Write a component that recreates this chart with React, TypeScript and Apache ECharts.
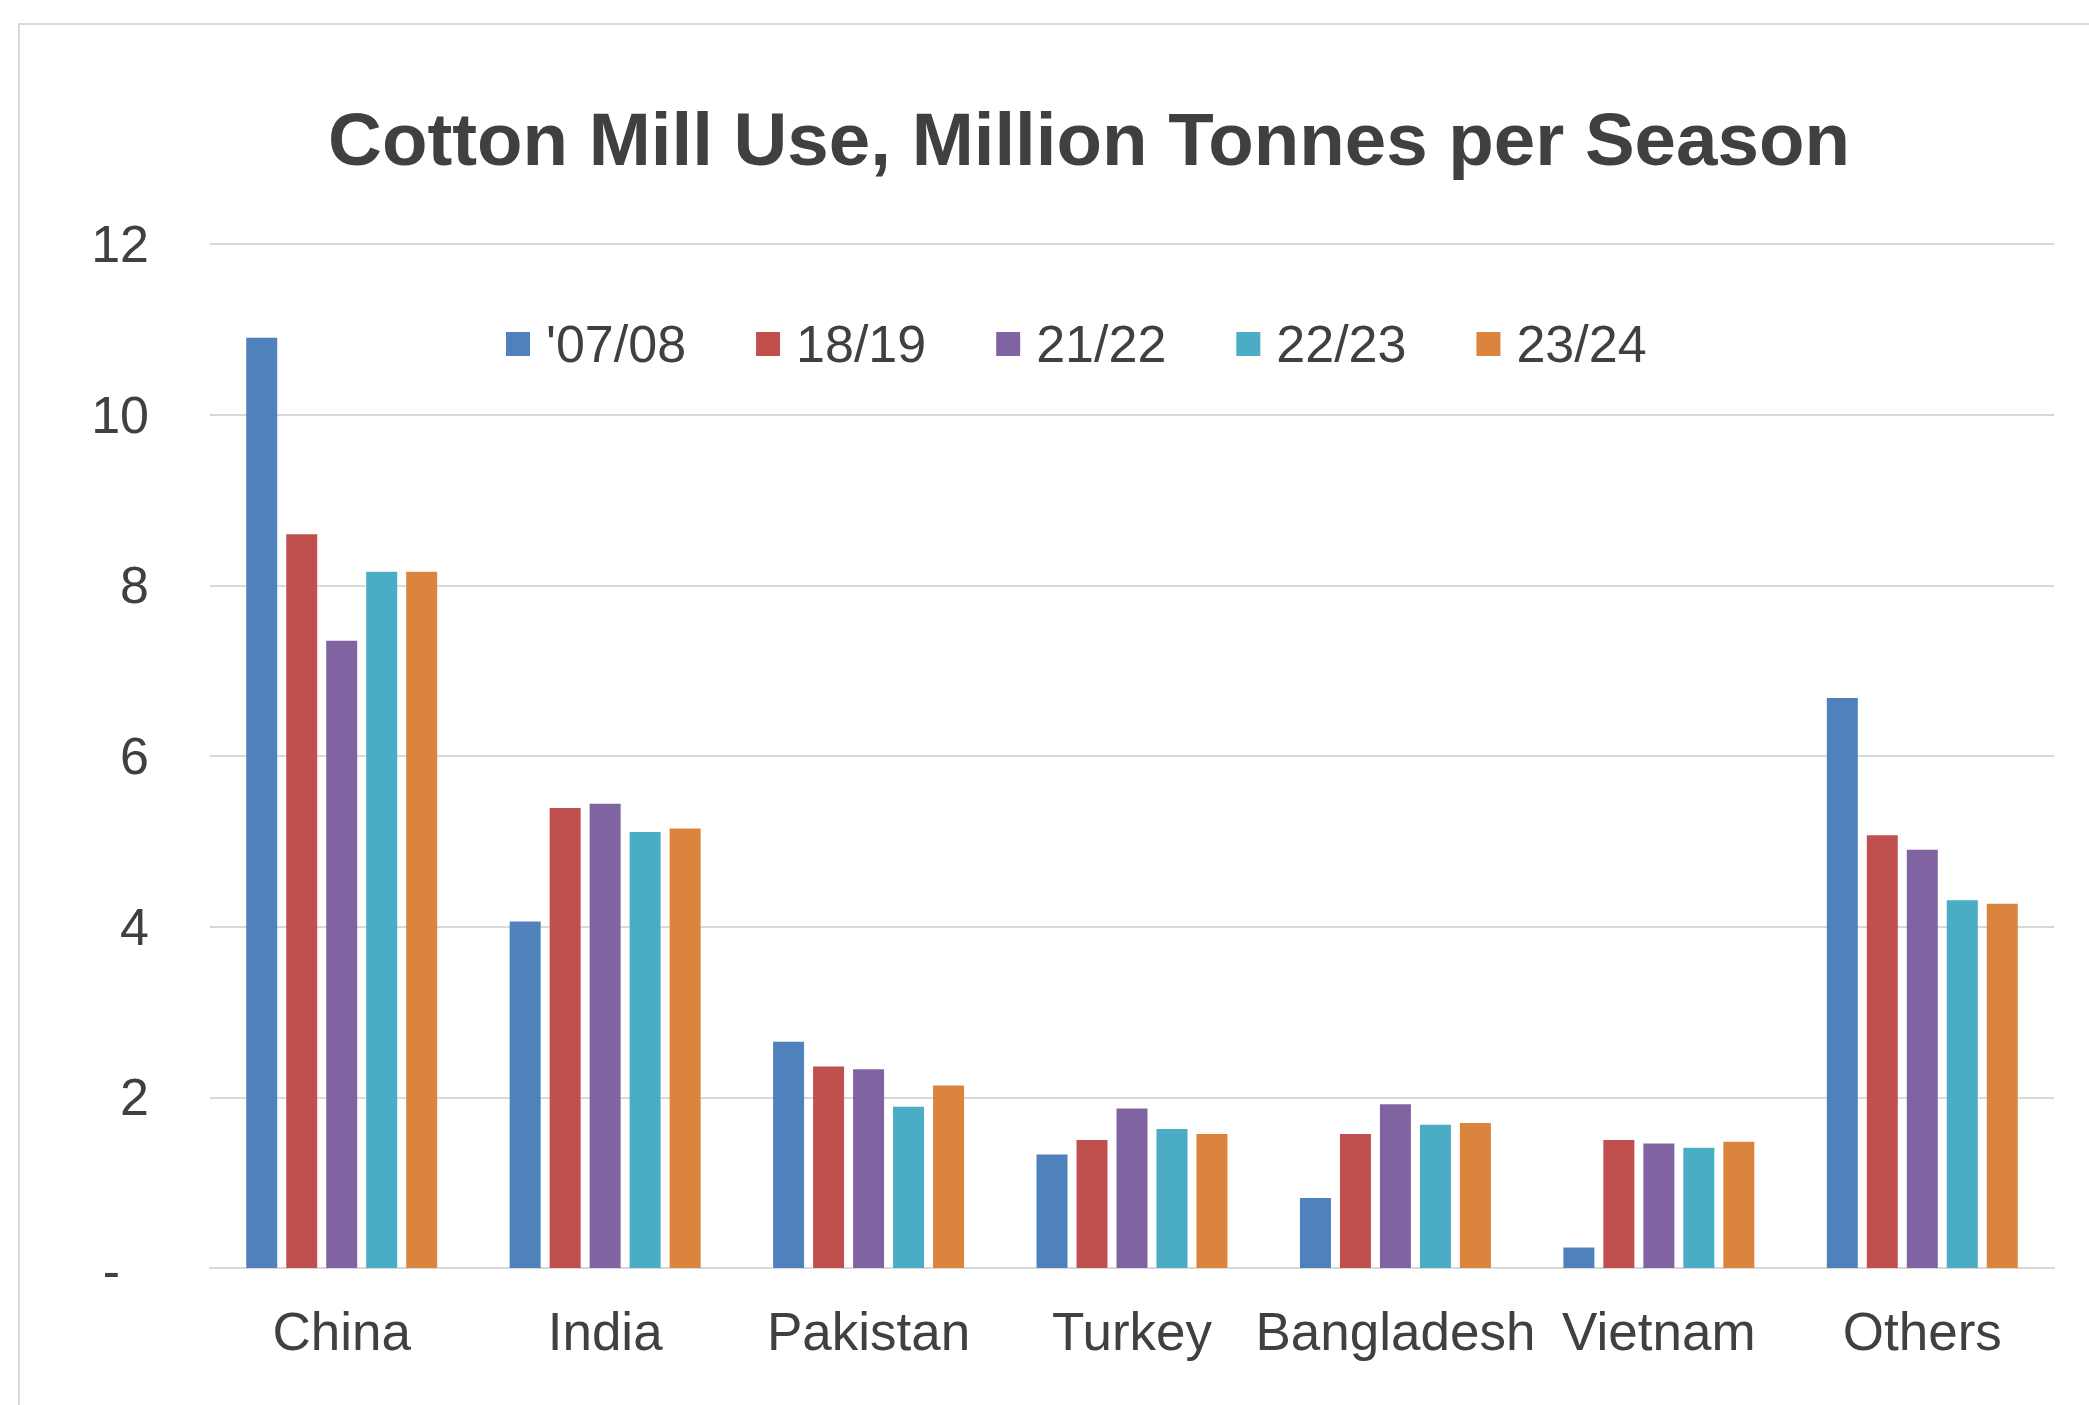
import React, { useEffect, useRef } from "react";
import * as echarts from "echarts";

const categories = ["China", "India", "Pakistan", "Turkey", "Bangladesh", "Vietnam", "Others"];
const seriesNames = ["'07/08", "18/19", "21/22", "22/23", "23/24"];
const s0708 = [10.9, 4.06, 2.65, 1.33, 0.82, 0.24, 6.68];
const s1819 = [8.6, 5.39, 2.36, 1.5, 1.57, 1.5, 5.07];
const s2122 = [7.35, 5.44, 2.33, 1.87, 1.92, 1.46, 4.9];
const s2223 = [8.16, 5.11, 1.89, 1.63, 1.68, 1.41, 4.31];
const s2324 = [8.16, 5.15, 2.14, 1.57, 1.7, 1.48, 4.27];
const seriesValues = [s0708, s1819, s2122, s2223, s2324];
const colors = ["#4F81BD", "#C0504D", "#8064A2", "#4BACC6", "#DB843D"];
const yTicks = [0, 2, 4, 6, 8, 10, 12];

const FONT = "'Liberation Sans', Arial, sans-serif";
const TEXT = "#404040";
const GRID = "#D9D9D9";

export default function App() {
  const ref = useRef<HTMLDivElement>(null);
  useEffect(() => {
    if (!ref.current) return;
    const chart = echarts.init(ref.current, undefined, { renderer: "svg" });
    chart.setOption({
      animation: false,
      backgroundColor: "#FFFFFF",
      textStyle: { fontFamily: FONT },
      title: {
        text: "Cotton Mill Use, Million Tonnes per Season",
        left: 1089,
        textAlign: "center",
        top: 102,
        padding: 0,
        textStyle: { fontFamily: FONT, fontSize: 74.5, fontWeight: "bold", color: TEXT },
      },
      graphic: [
        {
          type: "rect",
          shape: { x: 19, y: 24, width: 2300, height: 1600 },
          style: { fill: "none", stroke: GRID, lineWidth: 2 },
          silent: true,
          z: -10,
        },
      ],
      legend: {
        data: seriesNames,
        left: 506,
        top: 318,
        padding: 0,
        icon: "rect",
        itemWidth: 24,
        itemHeight: 24,
        itemGap: 70,
        textStyle: {
          fontFamily: FONT,
          fontSize: 52,
          color: TEXT,
          padding: [0, 0, 0, 11],
        },
      },
      grid: { left: 210, right: 35, top: 244, bottom: 137, containLabel: false },
      xAxis: {
        type: "category",
        data: categories,
        axisLine: { show: true, lineStyle: { color: GRID, width: 2 } },
        axisTick: { show: false },
        axisLabel: {
          interval: 0,
          margin: 37,
          fontFamily: FONT,
          fontSize: 53,
          color: TEXT,
        },
      },
      yAxis: {
        type: "value",
        min: yTicks[0],
        max: yTicks[yTicks.length - 1],
        interval: 2,
        axisLine: { show: false },
        axisTick: { show: false },
        splitLine: { show: true, lineStyle: { color: GRID, width: 2 } },
        axisLabel: {
          margin: 61,
          fontFamily: FONT,
          fontSize: 52,
          color: TEXT,
          formatter: (v: number) => (v === 0 ? "{d|-}" : String(v)),
          rich: {
            d: { fontFamily: FONT, fontSize: 52, color: TEXT, padding: [6, 29, 0, 0] },
          },
        },
      },
      series: seriesNames.map((name, i) => ({
        name,
        type: "bar",
        data: seriesValues[i],
        barWidth: 31,
        barGap: "29%",
        itemStyle: { color: colors[i] },
      })),
    });
    return () => chart.dispose();
  }, []);
  return (
    <div
      ref={ref}
      style={{ position: "fixed", left: 0, top: 0, width: 2089, height: 1405 }}
    />
  );
}
